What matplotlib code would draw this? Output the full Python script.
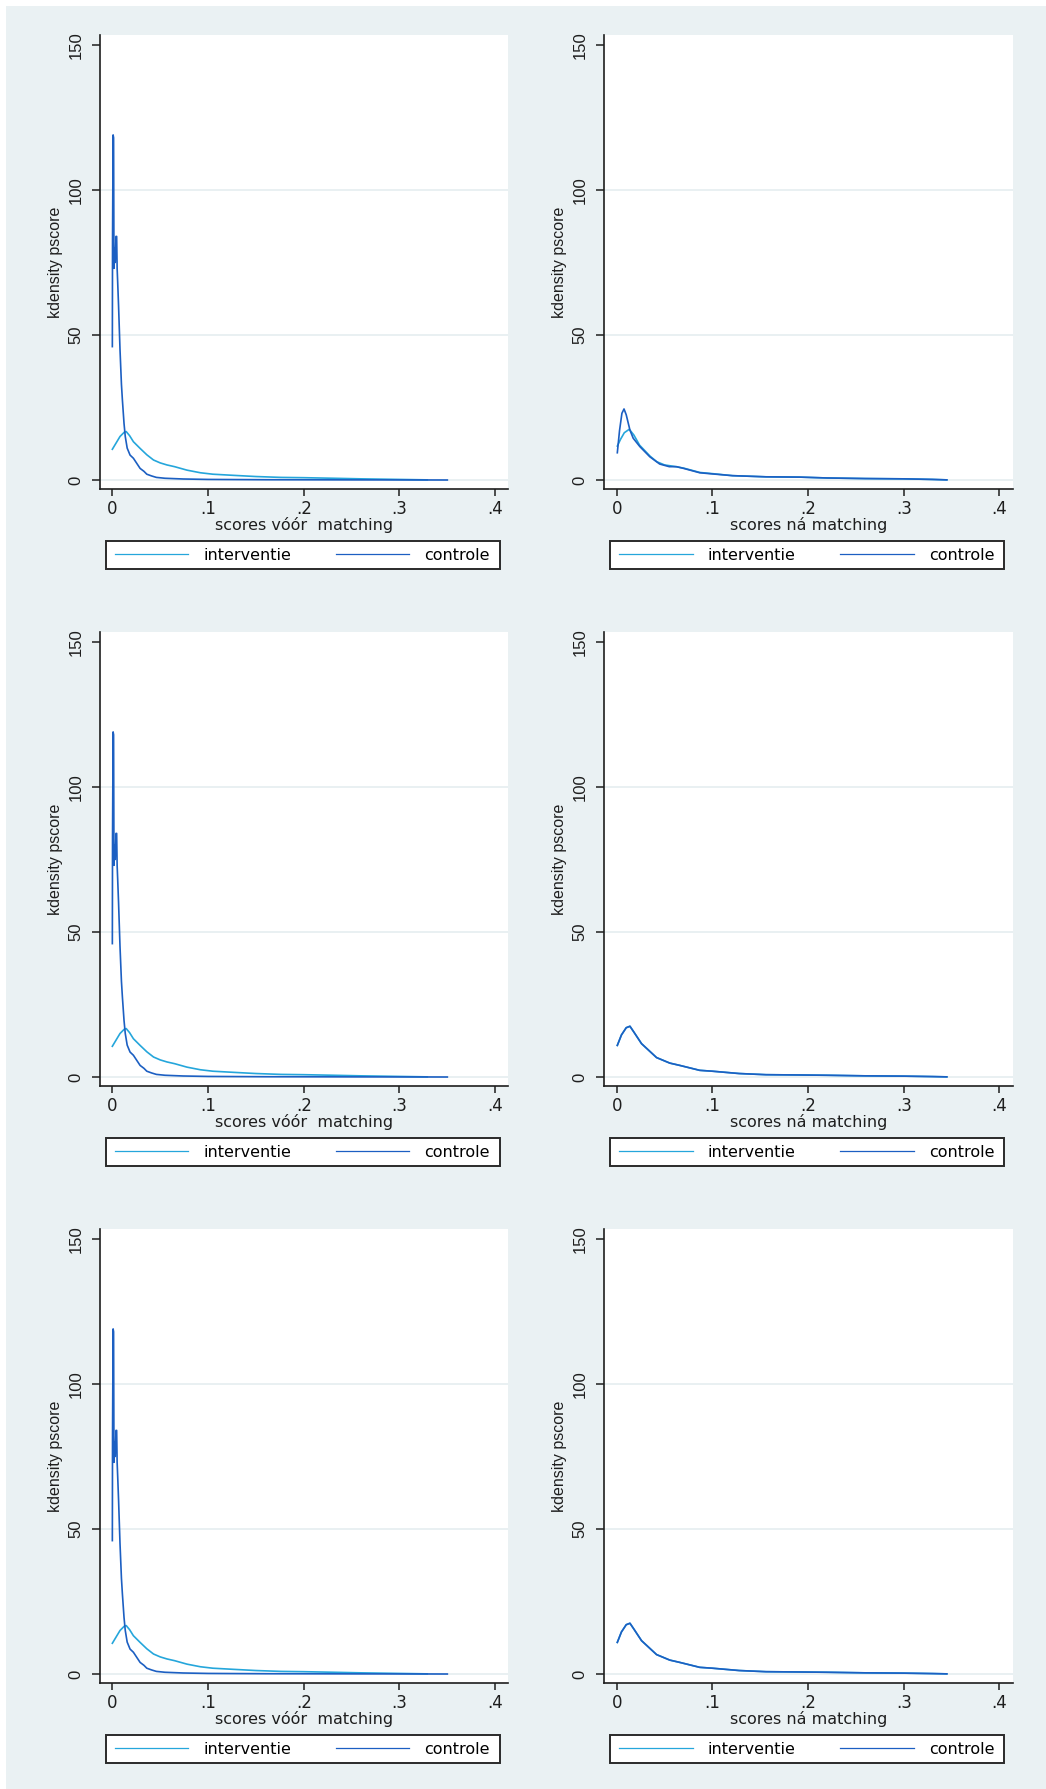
import matplotlib
matplotlib.use("Agg")
import matplotlib.pyplot as plt
from matplotlib.lines import Line2D
from matplotlib.patches import Rectangle

# ---- data: kernel density of the propensity score ----
# before matching (same in every row)
pre_int_x = [0.000, 0.004, 0.008, 0.0125, 0.0145, 0.018, 0.022, 0.029, 0.036, 0.043,
             0.050, 0.057, 0.065, 0.078, 0.092, 0.105, 0.127, 0.150, 0.176, 0.200,
             0.231, 0.260, 0.300, 0.329]
pre_int_y = [10.6, 12.8, 15.0, 16.5, 16.7, 15.3, 13.2, 10.9, 8.7, 6.9,
             5.9, 5.2, 4.6, 3.4, 2.5, 2.0, 1.6, 1.2, 0.9, 0.8,
             0.6, 0.4, 0.2, 0.05]
pre_ctl_x = [0.0000, 0.0002, 0.0008, 0.0013, 0.0017, 0.0023, 0.0030, 0.0038, 0.0045, 0.0050,
             0.0056, 0.0065, 0.0080, 0.0095, 0.0105, 0.0122, 0.0135, 0.0155, 0.0185, 0.0220,
             0.0260, 0.0290, 0.0330, 0.0360, 0.0410, 0.0460, 0.0550, 0.0740, 0.1000, 0.1300,
             0.1610, 0.2000, 0.2500, 0.3000, 0.3500]
pre_ctl_y = [46, 83, 119, 118, 73, 80, 75, 84, 84, 73,
             68, 60, 45, 33, 27.6, 19.5, 15.0, 11.0, 8.6, 7.5,
             5.5, 4.0, 3.0, 2.0, 1.4, 0.9, 0.6, 0.35, 0.2, 0.15,
             0.1, 0.08, 0.05, 0.03, 0.0]

# after matching, first specification
post1_int_x = [0.0007, 0.004, 0.008, 0.0132, 0.018, 0.024, 0.035, 0.042, 0.050, 0.060,
               0.070, 0.087, 0.100, 0.121, 0.156, 0.191, 0.220, 0.260, 0.300, 0.330, 0.345]
post1_int_y = [11.7, 14.0, 16.3, 17.5, 15.5, 12.0, 8.2, 6.3, 5.2, 4.7,
               4.1, 2.6, 2.2, 1.5, 1.1, 1.0, 0.7, 0.5, 0.4, 0.2, 0.05]
post1_ctl_x = [0.0007, 0.003, 0.0055, 0.0077, 0.0100, 0.0139, 0.0173, 0.0243, 0.0347, 0.045,
               0.055, 0.0625, 0.070, 0.0868, 0.100, 0.121, 0.156, 0.191, 0.220, 0.260,
               0.300, 0.330, 0.345]
post1_ctl_y = [9.4, 17.0, 23.0, 24.5, 22.5, 17.2, 14.4, 11.5, 8.0, 5.5,
               4.6, 4.6, 4.0, 2.5, 2.1, 1.5, 1.1, 1.0, 0.7, 0.5,
               0.4, 0.2, 0.05]

# after matching, second and third specification (groups coincide)
post2_x = [0.0007, 0.005, 0.010, 0.0139, 0.018, 0.026, 0.0417, 0.0555, 0.066, 0.0868,
           0.100, 0.128, 0.156, 0.191, 0.220, 0.260, 0.300, 0.330, 0.345]
post2_y = [10.9, 14.5, 17.0, 17.5, 15.5, 11.5, 6.7, 4.8, 4.0, 2.3,
           2.0, 1.2, 0.8, 0.7, 0.6, 0.4, 0.3, 0.15, 0.05]

x_ticks = [0, 0.1, 0.2, 0.3, 0.4]
x_tick_labels = ["0", ".1", ".2", ".3", ".4"]
y_ticks = [0, 50, 100, 150]
y_tick_labels = ["0", "50", "100", "150"]
grid_levels = [0, 50, 100]

group_labels = ["interventie", "controle"]
xlabel_pre = "scores vóór  matching"
xlabel_post = "scores ná matching"
ylabel = "kdensity pscore"

panels = [
    [(pre_int_x, pre_int_y, pre_ctl_x, pre_ctl_y, xlabel_pre),
     (post1_int_x, post1_int_y, post1_ctl_x, post1_ctl_y, xlabel_post)],
    [(pre_int_x, pre_int_y, pre_ctl_x, pre_ctl_y, xlabel_pre),
     (post2_x, post2_y, post2_x, post2_y, xlabel_post)],
    [(pre_int_x, pre_int_y, pre_ctl_x, pre_ctl_y, xlabel_pre),
     (post2_x, post2_y, post2_x, post2_y, xlabel_post)],
]

# ---- style ----
W, H = 1046, 1789
BG = "#eaf1f3"
GRID = "#e3ecef"
INK = "#1e1e1e"
C_INT = "#25a6db"
C_CTL = "#1c5fc2"
FS = 11.5
MAIN_FONT = ["DejaVu Sans"]
NARROW_FONT = ["Liberation Sans", "DejaVu Sans"]


def fx(px):
    return px / W


def fy(py):
    return 1 - py / H


fig = plt.figure(figsize=(W / 100, H / 100), dpi=100, facecolor="white")
fig.add_artist(Rectangle((fx(6), 0), 1 - fx(6), fy(6), transform=fig.transFigure,
                         facecolor=BG, edgecolor="none", zorder=-3))

col_left = [100.0, 604.3]
ax_w = 408.3
row_top0, ax_h, row_step = 35.0, 454.0, 597.0

for r, row in enumerate(panels):
    top = row_top0 + r * row_step
    for c, (ix, iy, cx, cy, xl) in enumerate(row):
        left = col_left[c]
        ax = fig.add_axes([fx(left), fy(top + ax_h), ax_w / W, ax_h / H])
        ax.set_facecolor("white")
        for v in grid_levels:
            ax.axhline(v, color=GRID, lw=1.1, zorder=0.5)
        ax.plot(ix, iy, color=C_INT, lw=1.2, zorder=2)
        ax.plot(cx, cy, color=C_CTL, lw=1.2, zorder=3)
        ax.set_xlim(-0.0129, 0.4137)
        ax.set_ylim(-3.1, 153.45)

        for s in ("top", "right"):
            ax.spines[s].set_visible(False)
        for s in ("left", "bottom"):
            ax.spines[s].set_color(INK)
            ax.spines[s].set_linewidth(1.2)

        ax.set_xticks(x_ticks)
        ax.set_xticklabels(x_tick_labels, family=MAIN_FONT, fontsize=FS + 0.5, color=INK)
        ax.set_yticks(y_ticks)
        ax.set_yticklabels(y_tick_labels, family=NARROW_FONT, fontsize=12,
                           color=INK, rotation=90, va="center", ha="right")
        ax.tick_params(axis="x", direction="out", length=5, width=1.1, color=INK, pad=3)
        ax.tick_params(axis="y", direction="out", length=6, width=1.1, color=INK, pad=6)

        ax.set_xlabel(xl, family=MAIN_FONT, fontsize=FS, color=INK, va="center")
        ax.xaxis.set_label_coords(0.5, -36 / ax_h)
        ax.set_ylabel(ylabel, family=NARROW_FONT, fontsize=11.5, color=INK)
        ax.yaxis.set_label_coords(-37 / ax_w, 0.5)

        # legend box under each panel
        bx0 = left + 5.7
        bx1 = left + 400.0
        by0 = top + 506.0
        by1 = top + 534.3
        fig.add_artist(Rectangle((fx(bx0), fy(by1)), (bx1 - bx0) / W, (by1 - by0) / H,
                                 transform=fig.transFigure, facecolor="white",
                                 edgecolor="#2a2a2a", lw=1.4, zorder=-1))
        handles = [Line2D([], [], color=C_INT, lw=0.9),
                   Line2D([], [], color=C_CTL, lw=0.9)]
        ix0, ix1 = bx0 + 9.3, bx1 - 10.0
        ax.legend(handles, group_labels, ncol=2, mode="expand", loc="center",
                  bbox_to_anchor=(fx(ix0), fy(by1), (ix1 - ix0) / W, (by1 - by0) / H),
                  bbox_transform=fig.transFigure, frameon=False, borderpad=0,
                  borderaxespad=0, handlelength=4.6, handletextpad=0.95,
                  prop={"family": MAIN_FONT, "size": FS})

fig.savefig("out.png", dpi=100, facecolor=fig.get_facecolor())
